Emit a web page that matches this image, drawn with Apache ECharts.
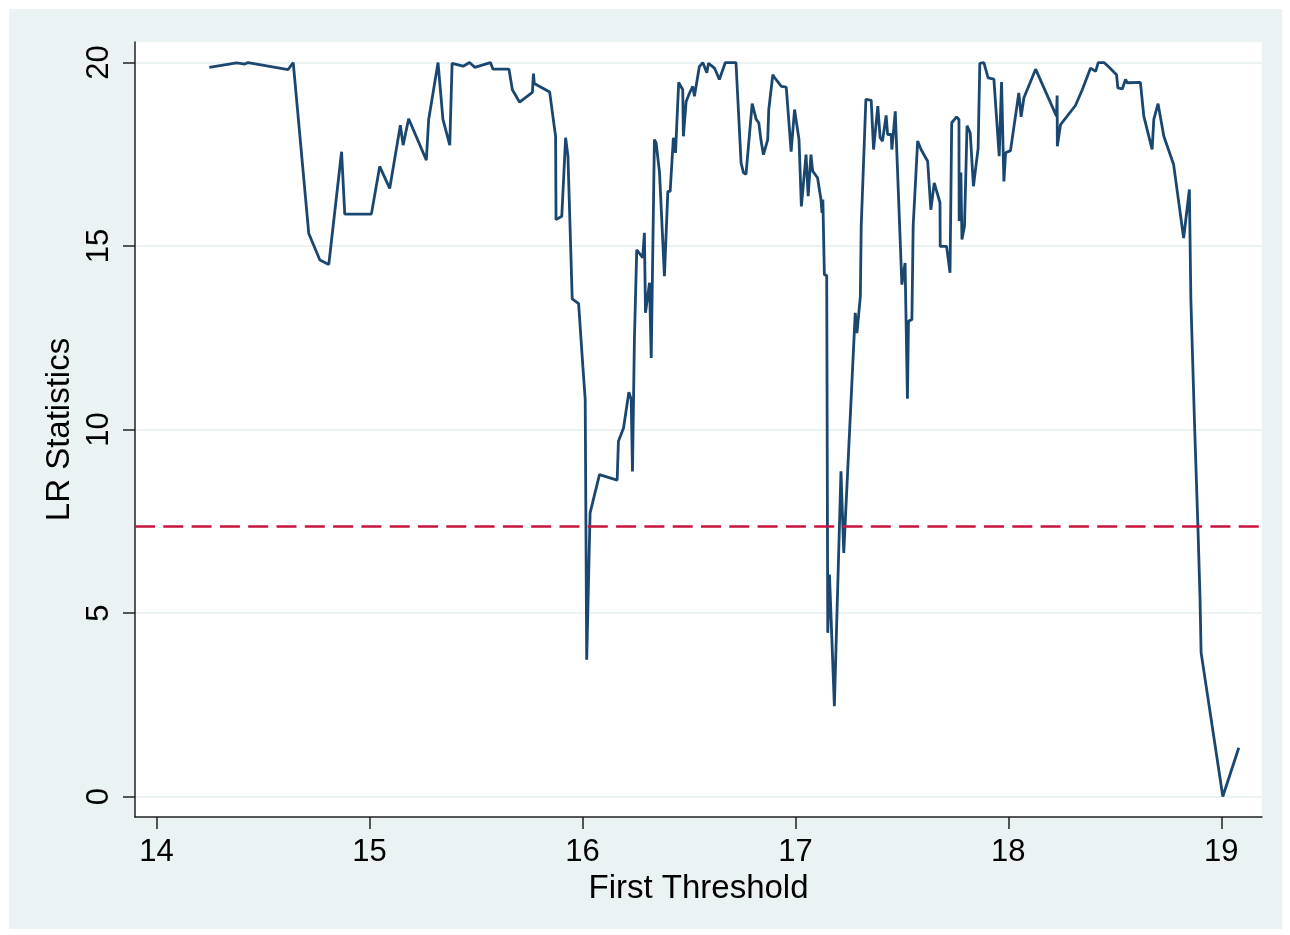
<!DOCTYPE html>
<html>
<head>
<meta charset="utf-8">
<script src="https://cdn.jsdelivr.net/npm/echarts@6/dist/echarts.min.js"></script>
<style>
  html, body { margin: 0; padding: 0; background: #fff; }
  #main { position: absolute; left: 9px; top: 9px; width: 1273px; height: 920px; }
</style>
</head>
<body>
<div id="main"></div>
<script>
  // first threshold values (x) and LR statistics (y)
  var threshold = [
    14.248, 14.376, 14.415, 14.43, 14.618, 14.642, 14.715, 14.767, 14.809, 14.869,
    14.884, 15.009, 15.048, 15.095, 15.145, 15.158, 15.184, 15.267, 15.278, 15.322,
    15.345, 15.377, 15.388, 15.44, 15.47, 15.494, 15.568, 15.58, 15.655, 15.671,
    15.705, 15.765, 15.77, 15.774, 15.846, 15.869, 15.874, 15.876, 15.903, 15.921,
    15.932, 15.952, 15.982, 16.002, 16.013, 16.02, 16.036, 16.08, 16.163, 16.169,
    16.193, 16.218, 16.229, 16.235, 16.244, 16.255, 16.283, 16.291, 16.296, 16.315,
    16.323, 16.338, 16.346, 16.362, 16.385, 16.401, 16.412, 16.427, 16.437, 16.452,
    16.471, 16.474, 16.487, 16.503, 16.518, 16.526, 16.549, 16.565, 16.584, 16.592,
    16.62, 16.643, 16.671, 16.721, 16.745, 16.756, 16.768, 16.797, 16.816, 16.828,
    16.839, 16.85, 16.87, 16.875, 16.894, 16.901, 16.934, 16.957, 16.98, 16.996,
    17.017, 17.028, 17.05, 17.06, 17.073, 17.081, 17.104, 17.12, 17.125, 17.129,
    17.136, 17.147, 17.152, 17.16, 17.183, 17.214, 17.227, 17.281, 17.289, 17.305,
    17.309, 17.331, 17.356, 17.367, 17.387, 17.398, 17.409, 17.426, 17.433, 17.45,
    17.453, 17.469, 17.5, 17.515, 17.526, 17.531, 17.547, 17.553, 17.574, 17.59,
    17.621, 17.636, 17.652, 17.679, 17.68, 17.71, 17.726, 17.734, 17.757, 17.768,
    17.769, 17.777, 17.782, 17.794, 17.806, 17.821, 17.836, 17.858, 17.866, 17.885,
    17.905, 17.932, 17.957, 17.968, 17.979, 17.987, 18.01, 18.049, 18.06, 18.073,
    18.128, 18.226, 18.229, 18.23, 18.245, 18.315, 18.347, 18.386, 18.41, 18.422,
    18.449, 18.472, 18.508, 18.514, 18.535, 18.55, 18.558, 18.62, 18.636, 18.675,
    18.683, 18.703, 18.73, 18.776, 18.823, 18.85, 18.857, 18.875, 18.89, 18.9,
    18.905, 19.007, 19.082
  ];
  var lrStat = [
    19.87, 19.99, 19.96, 20.0, 19.81, 20.0, 15.34, 14.62, 14.50, 17.57,
    15.87, 15.87, 17.17, 16.57, 18.29, 17.75, 18.47, 17.34, 18.45, 20.0,
    18.45, 17.75, 19.98, 19.9, 20.0, 19.87, 20.0, 19.82, 19.82, 19.26,
    18.92, 19.19, 19.7, 19.43, 19.2, 18.2, 17.99, 15.72, 15.81, 17.95,
    17.45, 13.56, 13.43, 11.72, 10.82, 3.73, 7.73, 8.77, 8.62, 9.68,
    10.04, 11.02, 10.82, 8.86, 12.45, 14.9, 14.68, 15.36, 13.18, 14.0,
    11.95, 17.9, 17.81, 17.0, 14.18, 16.49, 16.49, 17.95, 17.54, 19.46,
    19.26, 17.99, 18.94, 19.17, 19.35, 19.08, 19.89, 20.0, 19.72, 19.98,
    19.85, 19.54, 20.0, 20.0, 17.26, 17.0, 16.95, 18.88, 18.45, 18.36,
    17.86, 17.49, 17.9, 18.72, 19.67, 19.6, 19.35, 19.33, 17.57, 18.72,
    17.9, 16.08, 17.49, 16.36, 17.49, 17.04, 16.86, 16.27, 15.9, 16.27,
    14.22, 14.2, 4.46, 6.05, 2.46, 8.86, 6.64, 13.18, 12.63, 13.63,
    15.54, 19.0, 18.97, 17.63, 18.81, 17.95, 17.86, 18.56, 18.04, 18.04,
    17.63, 18.67, 13.95, 14.54, 10.84, 12.95, 13.0, 15.54, 17.86, 17.63,
    17.31, 15.99, 16.72, 16.18, 14.99, 14.99, 14.27, 18.36, 18.52, 18.45,
    15.68, 17.0, 15.18, 15.54, 18.28, 18.08, 16.63, 17.66, 19.98, 20.0,
    19.58, 19.55, 17.45, 19.47, 16.76, 17.54, 17.6, 19.17, 18.52, 19.04,
    19.82, 18.54, 19.1, 17.72, 18.31, 18.83, 19.26, 19.85, 19.76, 20.0,
    20.0, 19.88, 19.67, 19.31, 19.28, 19.54, 19.45, 19.46, 18.54, 17.63,
    18.45, 18.88, 17.99, 17.22, 15.22, 16.54, 13.54, 10.0, 7.37, 5.4,
    3.92, 0.0, 1.33
  ];
  var xTicks = [14, 15, 16, 17, 18, 19];
  var yTicks = [0, 5, 10, 15, 20];
  var critValue = 7.36;

  var chart = echarts.init(document.getElementById('main'));
  var font = "'Liberation Sans', Arial, sans-serif";

  var points = threshold.map(function (x, i) {
    return [x, lrStat[i]];
  });

  var option = {
    backgroundColor: '#eaf2f3',
    animation: false,
    grid: {
      left: 126,
      top: 33,
      right: 20,
      bottom: 112,
      show: true,
      backgroundColor: '#ffffff',
      borderWidth: 0
    },
    xAxis: {
      type: 'value',
      min: 13.899,
      max: 19.191,
      name: 'First Threshold',
      nameLocation: 'middle',
      nameGap: 51,
      nameTextStyle: { fontFamily: font, fontSize: 33, color: '#000' },
      axisLine: { show: true, onZero: false, lineStyle: { color: '#222', width: 1.5 } },
      axisTick: { show: true, length: 12, customValues: xTicks, lineStyle: { color: '#222', width: 1.5 } },
      axisLabel: { customValues: xTicks, fontFamily: font, fontSize: 31, color: '#000', margin: 20 },
      splitLine: { show: false }
    },
    yAxis: {
      type: 'value',
      min: -0.558,
      max: 20.56,
      name: 'LR Statistics',
      nameLocation: 'middle',
      nameGap: 49,
      nameTextStyle: { fontFamily: font, fontSize: 33, color: '#000' },
      axisLine: { show: true, onZero: false, lineStyle: { color: '#222', width: 1.5 } },
      axisTick: { show: true, length: 12, customValues: yTicks, lineStyle: { color: '#222', width: 1.5 } },
      axisLabel: { customValues: yTicks, rotate: 90, fontFamily: font, fontSize: 31, color: '#000', margin: 20 },
      splitLine: { show: true, lineStyle: { color: '#eaf2f3', width: 2 } }
    },
    series: [{
      type: 'line',
      data: points,
      showSymbol: false,
      symbol: 'none',
      lineStyle: { color: '#1a476f', width: 2.8 },
      markLine: {
        silent: true,
        symbol: 'none',
        label: { show: false },
        lineStyle: { color: '#c8143c', width: 2.5, type: [20, 8.3] },
        data: [{ yAxis: critValue }]
      }
    }]
  };
  chart.setOption(option);
  window.addEventListener('resize', function () { chart.resize(); });
</script>
</body>
</html>
